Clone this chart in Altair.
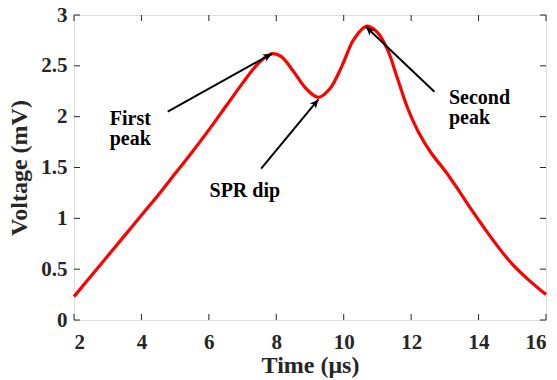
import math
import altair as alt
import pandas as pd

# ---- data ----
time_us = [2.0, 2.5, 3.0, 3.5, 4.0, 4.5, 5.0, 5.5, 6.0, 6.5, 7.0, 7.4, 7.7, 7.9,
           8.15, 8.5, 8.9, 9.25, 9.6, 9.95, 10.3, 10.68, 11.0, 11.3, 11.6, 11.9,
           12.2, 12.6, 13.0, 13.4, 13.8, 14.2, 14.6, 15.0, 15.5, 16.0]
voltage_mv = [0.23, 0.43, 0.63, 0.83, 1.03, 1.23, 1.44, 1.65, 1.87, 2.10, 2.33, 2.50, 2.59, 2.62,
              2.59, 2.45, 2.27, 2.19, 2.28, 2.50, 2.76, 2.89, 2.83, 2.66, 2.37, 2.08,
              1.86, 1.64, 1.47, 1.28, 1.08, 0.89, 0.71, 0.55, 0.39, 0.25]

x_ticks = [2, 4, 6, 8, 10, 12, 14, 16]
y_ticks = [0, 0.5, 1, 1.5, 2, 2.5, 3]

# annotations: arrows (tail -> head) and labels
arrow_tail_x = [4.78, 7.55, 12.69]
arrow_tail_y = [2.05, 1.49, 2.245]
arrow_head_x = [7.87, 9.25, 10.66]
arrow_head_y = [2.62, 2.17, 2.885]

label_text = ["First\npeak", "SPR dip", "Second\npeak"]
label_x = [3.06, 6.02, 13.12]
label_y = [1.92, 1.21, 2.12]

# ---- layout ----
W, H = 472, 305
XDOM, YDOM = [2, 16], [0, 3]
FONT = "Liberation Serif"
INK = "#262626"

xs = alt.Scale(domain=XDOM, nice=False, zero=False)
ys = alt.Scale(domain=YDOM, nice=False, zero=False)

curve = pd.DataFrame({"t": time_us, "v": voltage_mv})

px_per_x = W / (XDOM[1] - XDOM[0])
px_per_y = H / (YDOM[1] - YDOM[0])
angles = []
for tx, ty, hx, hy in zip(arrow_tail_x, arrow_tail_y, arrow_head_x, arrow_head_y):
    dx = (hx - tx) * px_per_x
    dy = -(hy - ty) * px_per_y
    angles.append(math.degrees(math.atan2(dy, dx)) % 360)
arrows = pd.DataFrame({"tx": arrow_tail_x, "ty": arrow_tail_y,
                       "hx": arrow_head_x, "hy": arrow_head_y, "ang": angles})
labels = pd.DataFrame({"text": label_text, "x": label_x, "y": label_y})
xt = pd.DataFrame({"x": x_ticks})
yt = pd.DataFrame({"y": y_ticks})

base_x = alt.X("t:Q", scale=xs, axis=alt.Axis(
    values=x_ticks, title="Time (μs)", grid=False, domain=False, ticks=False,
    format="~g",
    labelFont=FONT, labelFontSize=21, labelFontWeight="bold", labelColor=INK,
    labelPadding=11, titleFont=FONT, titleFontSize=24, titleFontWeight="bold",
    titleColor=INK, titlePadding=1))
base_y = alt.Y("v:Q", scale=ys, axis=alt.Axis(
    values=y_ticks, title="Voltage (mV)", grid=False, domain=False, ticks=False,
    format="~g",
    labelFont=FONT, labelFontSize=21, labelFontWeight="bold", labelColor=INK,
    labelPadding=7, titleFont=FONT, titleFontSize=24, titleFontWeight="bold",
    titleColor=INK, titlePadding=9))

line = alt.Chart(curve).mark_line(color="#ff0000", strokeWidth=3.2,
                                  interpolate="catmull-rom").encode(x=base_x, y=base_y)

TL = 6
tick_b = alt.Chart(xt).mark_rule(color=INK, strokeWidth=1).encode(
    x=alt.X("x:Q", scale=xs), y=alt.value(H), y2=alt.value(H - TL))
tick_t = alt.Chart(xt).mark_rule(color=INK, strokeWidth=1).encode(
    x=alt.X("x:Q", scale=xs), y=alt.value(0), y2=alt.value(TL))
tick_l = alt.Chart(yt).mark_rule(color=INK, strokeWidth=1).encode(
    y=alt.Y("y:Q", scale=ys), x=alt.value(0), x2=alt.value(TL))
tick_r = alt.Chart(yt).mark_rule(color=INK, strokeWidth=1).encode(
    y=alt.Y("y:Q", scale=ys), x=alt.value(W), x2=alt.value(W - TL))

arrow_lines = alt.Chart(arrows).mark_rule(color="black", strokeWidth=2).encode(
    x=alt.X("tx:Q", scale=xs), y=alt.Y("ty:Q", scale=ys),
    x2="hx:Q", y2="hy:Q")
arrow_heads = alt.Chart(arrows).mark_point(
    shape="M0,0L-1.1,-0.5L-0.8,0L-1.1,0.5Z", filled=True, color="black",
    opacity=1, size=260).encode(
    x=alt.X("hx:Q", scale=xs), y=alt.Y("hy:Q", scale=ys),
    angle=alt.Angle("ang:Q", scale=None))

texts = alt.Chart(labels).mark_text(
    font=FONT, fontSize=20, fontWeight="bold", color="black",
    align="left", baseline="alphabetic", lineBreak="\n", lineHeight=20).encode(
    x=alt.X("x:Q", scale=xs), y=alt.Y("y:Q", scale=ys), text="text:N")

chart = alt.layer(line, tick_b, tick_t, tick_l, tick_r, arrow_lines, arrow_heads, texts).properties(
    width=W, height=H,
    autosize=alt.AutoSizeParams(type="none"),
    padding={"left": 74, "top": 15, "right": 11, "bottom": 60},
).configure_view(stroke=INK, strokeWidth=1.2).configure(background="white")

chart.save("out.html", embed_options={"renderer": "svg", "actions": False})
